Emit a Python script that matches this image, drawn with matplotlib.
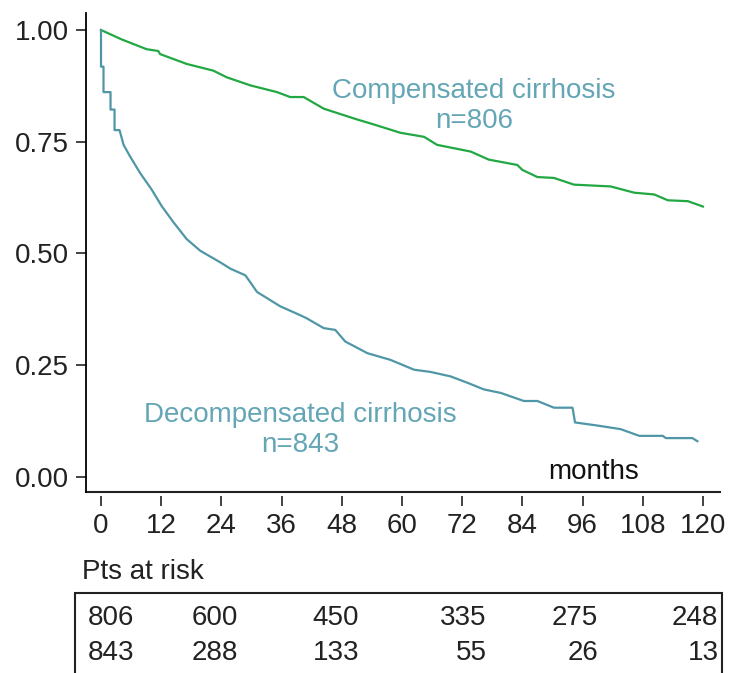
import matplotlib
matplotlib.use("Agg")
import matplotlib.pyplot as plt
from matplotlib.patches import Rectangle

plt.rcParams['font.family'] = ['Liberation Sans', 'DejaVu Sans']

# Kaplan-Meier curves (months, survival)
comp_months = [0, 4.1, 9.1, 11.4, 11.8, 17.1, 22.4, 25.1, 29.8, 35.1, 37.7, 40.4, 44.4,
               51.0, 54.0, 59.7, 64.4, 67.0, 73.7, 77.3, 83.0, 84.0, 87.0, 90.3, 94.3,
               101.6, 106.3, 110.3, 113.0, 117.0, 120.0]
comp_surv = [1.0, 0.979, 0.957, 0.953, 0.946, 0.924, 0.909, 0.894, 0.876, 0.861, 0.850, 0.850, 0.824,
             0.800, 0.790, 0.770, 0.761, 0.743, 0.728, 0.710, 0.698, 0.687, 0.671, 0.669, 0.654,
             0.650, 0.636, 0.632, 0.619, 0.617, 0.605]

decomp_months = [0, 0, 0.5, 0.5, 1.9, 1.9, 2.7, 2.7, 3.7, 4.5, 5.8, 7.8, 10.1, 12.1, 14.5,
                 17.1, 19.8, 23.8, 25.8, 28.8, 31.1, 35.7, 39.7, 41.0, 44.4, 46.7, 48.7, 53.1,
                 57.7, 62.4, 65.7, 69.7, 73.0, 76.3, 79.7, 84.3, 87.0, 90.3, 94.0, 94.5, 99.0,
                 103.6, 107.3, 112.0, 112.6, 117.9, 118.9]
decomp_surv = [1.0, 0.918, 0.918, 0.861, 0.861, 0.822, 0.822, 0.776, 0.776, 0.743, 0.717, 0.680, 0.643, 0.606, 0.569,
               0.532, 0.506, 0.480, 0.466, 0.451, 0.414, 0.382, 0.362, 0.355, 0.333, 0.329, 0.303, 0.277,
               0.262, 0.240, 0.235, 0.225, 0.211, 0.196, 0.188, 0.170, 0.170, 0.155, 0.155, 0.122, 0.115,
               0.107, 0.092, 0.092, 0.087, 0.087, 0.080]

x_ticks = [0, 12, 24, 36, 48, 60, 72, 84, 96, 108, 120]
y_ticks = [0.0, 0.25, 0.5, 0.75, 1.0]

risk_comp = [806, 600, 450, 335, 275, 248]
risk_decomp = [843, 288, 133, 55, 26, 13]

green = '#22a843'
teal_line = '#4f97a6'
teal_text = '#64a6b5'
W, H = 734, 673

fig = plt.figure(figsize=(W / 100, H / 100), dpi=100)
ax = fig.add_axes([86 / W, (H - 492) / H, 634 / W, 479 / H])

ax.plot(comp_months, comp_surv, color=green, lw=1.6)
ax.plot(decomp_months, decomp_surv, color=teal_line, lw=1.6)

ax.set_xlim(-2.99, 123.4)
ax.set_ylim(-0.0336, 1.038)

ax.spines['top'].set_visible(False)
ax.spines['right'].set_visible(False)
ax.spines['left'].set_linewidth(1.3)
# x axis ticks sit a little below the axis line
ax.spines['bottom'].set_position(('outward', 3))
ax.spines['bottom'].set_visible(False)
ax.plot([0, 1], [0, 0], transform=ax.transAxes, color='#222222', lw=1.5, clip_on=False)

ax.set_xticks(x_ticks)
ax.set_yticks(y_ticks)
ax.set_yticklabels(['%.2f' % v for v in y_ticks])
ax.tick_params(axis='x', length=7.2, width=1.2, pad=5, labelsize=20, colors='#222222')
ax.tick_params(axis='y', length=7, width=1.2, pad=5, labelsize=20, colors='#222222')

ax.text(74.3, 0.829, 'Compensated cirrhosis\nn=806', color=teal_text, fontsize=20,
        ha='center', va='center', linespacing=1.2)
ax.text(39.7, 0.104, 'Decompensated cirrhosis\nn=843', color=teal_text, fontsize=20,
        ha='center', va='center', linespacing=1.2)
ax.text(98.2, 0.011, 'months', color='#111111', fontsize=20, ha='center', va='center')

# at-risk table
fig.text(82 / W, (H - 572) / H, 'Pts at risk', fontsize=20, color='#222222', va='center')
fig.patches.append(Rectangle((75 / W, -0.1), 647 / W, (H - 593) / H + 0.1,
                             transform=fig.transFigure, fill=False, lw=1.5,
                             edgecolor='#222222'))
row1_x = [111, 215, 336, 463, 575, 695]
row2_x = [111, 215, 336, 471, 583, 703]
for v, px in zip(risk_comp, row1_x):
    fig.text(px / W, (H - 618) / H, str(v), fontsize=20, color='#222222', ha='center', va='center')
for v, px in zip(risk_decomp, row2_x):
    fig.text(px / W, (H - 653) / H, str(v), fontsize=20, color='#222222', ha='center', va='center')

fig.savefig('out.png', dpi=100)
